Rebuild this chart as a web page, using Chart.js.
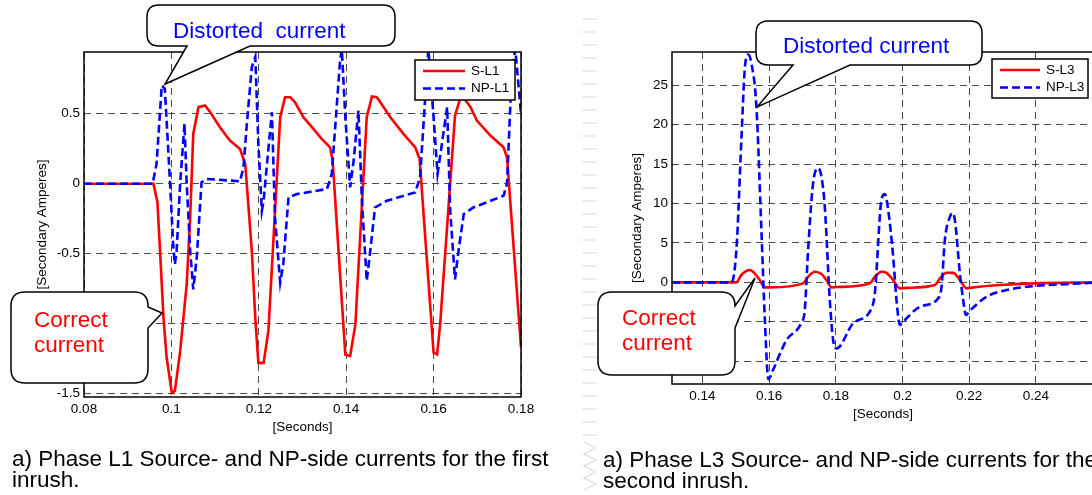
<!DOCTYPE html>
<html>
<head>
<meta charset="utf-8">
<script src="https://cdn.jsdelivr.net/npm/chart.js@4.4.0/dist/chart.umd.min.js"></script>
<style>
  html, body { margin: 0; padding: 0; background: #fff; }
  body { width: 1092px; height: 495px; overflow: hidden; position: relative; }
  canvas { position: absolute; top: 0; }
  #chart-l1 { left: 0; }
  #chart-l3 { left: 595px; }
  #notes { position: absolute; left: 0; top: 0; pointer-events: none; }
  #notes text { font-family: "Liberation Sans", Arial, sans-serif; font-size: 22.5px; white-space: pre; }
  .fold { position: absolute; left: 582px; top: 18px; width: 15px; height: 420px;
          background: repeating-linear-gradient(to bottom, #ececec 0 2px, transparent 2px 13px); }
</style>
</head>
<body>
<div class="fold"></div>
<canvas id="chart-l1" width="545" height="440"></canvas>
<canvas id="chart-l3" width="523" height="427"></canvas>

<svg id="notes" width="1092" height="495">
  <!-- left: distorted -->
  <path d="M159 5 H383 Q395 5 395 17 V34 Q395 46 383 46 H250 L165 84 L187 46 H159 Q147 46 147 34 V17 Q147 5 159 5 Z"
        fill="#fff" stroke="#000" stroke-width="1.5"/>
  <text x="173" y="37.5" fill="#0000ff">Distorted  current</text>
  <!-- left: correct -->
  <path d="M25 292 H134 Q148 292 148 306 V307 L162 313 L148 328 V369 Q148 383 134 383 H25 Q11 383 11 369 V306 Q11 292 25 292 Z"
        fill="#fff" stroke="#000" stroke-width="1.5"/>
  <text x="34" y="327" fill="#ff0000">Correct</text>
  <text x="34" y="351.5" fill="#ff0000">current</text>
  <!-- right: distorted -->
  <path d="M768 21 H970 Q982 21 982 33 V53 Q982 65 970 65 H850 L757 107 L793 65 H768 Q756 65 756 53 V33 Q756 21 768 21 Z"
        fill="#fff" stroke="#000" stroke-width="1.5"/>
  <text x="783" y="53" fill="#0000ff">Distorted current</text>
  <!-- right: correct -->
  <path d="M612 292 H721 Q735 292 735 306 L755 278 L735 328 V361 Q735 375 721 375 H612 Q598 375 598 361 V306 Q598 292 612 292 Z"
        fill="#fff" stroke="#000" stroke-width="1.5"/>
  <text x="622" y="325" fill="#ff0000">Correct</text>
  <text x="622" y="350" fill="#ff0000">current</text>

  <polyline points="584,442 596,448 584,454 596,460 584,466 596,472 584,478 596,484 584,490" fill="none" stroke="#e2e2e2" stroke-width="1.5"/>

  <text x="12" y="466" fill="#000">a) Phase L1 Source- and NP-side currents for the first</text>
  <text x="12" y="487.3" fill="#000">inrush.</text>
  <text x="603" y="466.7" fill="#000">a) Phase L3 Source- and NP-side currents for the</text>
  <text x="603" y="488" fill="#000">second inrush.</text>
</svg>

<script>
// ---- L1, first inrush ----
const l1XTicks = [0.08, 0.1, 0.12, 0.14, 0.16, 0.18];
const l1YTicks = [-1.5, -1, -0.5, 0, 0.5];

const sL1Time = [0.080, 0.0959, 0.0968, 0.0974, 0.0982, 0.0989, 0.1001, 0.1008, 0.1020, 0.1035, 0.1043, 0.1050,
  0.1062, 0.1077, 0.1089, 0.1111, 0.1134, 0.1157, 0.1169, 0.1184, 0.1192, 0.1199, 0.1211, 0.1222, 0.1249,
  0.1260, 0.1272, 0.1283, 0.1302, 0.1325, 0.1344, 0.1363, 0.1369, 0.1398, 0.1409, 0.1421, 0.1447, 0.1459,
  0.1470, 0.1478, 0.1501, 0.1531, 0.1558, 0.1568, 0.1600, 0.1608, 0.1615, 0.1649, 0.1661, 0.1672, 0.1684,
  0.1699, 0.1730, 0.1760, 0.1768, 0.1800];
const sL1Amps = [0, 0, -0.13, -0.48, -0.96, -1.24, -1.495, -1.48, -1.20, -0.72, -0.24, 0.356,
  0.547, 0.559, 0.511, 0.403, 0.308, 0.248, 0.141, -0.48, -0.96, -1.28, -1.28, -1.05, 0.475,
  0.618, 0.618, 0.582, 0.475, 0.392, 0.32, 0.26, 0.165, -1.22, -1.232, -1.005, 0.475, 0.623,
  0.618, 0.582, 0.475, 0.356, 0.26, 0.177, -1.208, -1.22, -1.005, 0.487, 0.61, 0.60, 0.55,
  0.451, 0.344, 0.26, 0.188, -1.17];

const npL1Time = [0.080, 0.0957, 0.0966, 0.0978, 0.0985, 0.0997, 0.1004, 0.1008, 0.1012, 0.1020, 0.1030, 0.1035,
  0.1043, 0.1050, 0.1058, 0.1069, 0.1081, 0.1157, 0.1165, 0.1172, 0.1184, 0.1192, 0.1199, 0.1207, 0.1211,
  0.1218, 0.1230, 0.1237, 0.1249, 0.1256, 0.1268, 0.1287, 0.1356, 0.1367, 0.1386, 0.1390, 0.1398, 0.1409,
  0.1417, 0.1428, 0.1436, 0.1447, 0.1455, 0.1466, 0.1493, 0.1558, 0.1569, 0.1588, 0.1600, 0.1609, 0.1619,
  0.1631, 0.1638, 0.1649, 0.1657, 0.1669, 0.1691, 0.1760, 0.1768, 0.1779, 0.1787, 0.1800];
const npL1Amps = [0, 0, 0.141, 0.702, 0.678, 0, -0.43, -0.575, -0.48, 0, 0.428, 0,
  -0.48, -0.755, -0.528, 0.01, 0.034, 0.017, 0.117, 0.403, 0.833, 0.905, 0.284, -0.193, -0.122,
  0.117, 0.511, -0.241, -0.707, -0.575, -0.098, -0.074, -0.038, 0.07, 0.88, 0.96, 0.475, -0.026,
  0.165, 0.523, -0.122, -0.695, -0.48, -0.17, -0.122, -0.062, 0.045, 0.96, 0.475, 0.07, 0.284,
  0.547, -0.193, -0.683, -0.48, -0.217, -0.17, -0.086, 0, 0.81, 0.96, 0.5];

// ---- L3, second inrush ----
const l3XTicks = [0.14, 0.16, 0.18, 0.2, 0.22, 0.24];
const l3YTicks = [-10, -5, 0, 5, 10, 15, 20, 25];

const sL3Time = [0.1309, 0.1502, 0.1517, 0.1542, 0.1557, 0.1572, 0.1587, 0.1602, 0.1702, 0.1717, 0.1737, 0.1757,
  0.1772, 0.1787, 0.1802, 0.1902, 0.1917, 0.1937, 0.1952, 0.1972, 0.1992, 0.2012, 0.2097, 0.2112, 0.2132,
  0.2152, 0.2172, 0.2192, 0.2212, 0.2292, 0.2392, 0.2574];
const sL3Amps = [0, 0, 0.93, 1.56, 1.14, 0.29, -0.64, -0.64, -0.13, 0.71, 1.35, 1.05,
  0.29, -0.64, -0.6, -0.13, 0.71, 1.35, 1.2, 0.29, -0.76, -0.7, -0.34, 0.5, 1.22,
  1.2, 0.29, -0.76, -0.64, -0.34, -0.13, 0];

const npL3Time = [0.1309, 0.1487, 0.1502, 0.1517, 0.1527, 0.1537, 0.1547, 0.1562, 0.1577, 0.1587, 0.1598, 0.1612,
  0.1652, 0.1697, 0.1707, 0.1717, 0.1732, 0.1747, 0.1757, 0.1767, 0.1782, 0.1792, 0.1802, 0.1852, 0.1907,
  0.1917, 0.1937, 0.1947, 0.1957, 0.1972, 0.1982, 0.1992, 0.2002, 0.2052, 0.2107, 0.2117, 0.2127, 0.2142,
  0.2150, 0.2157, 0.2172, 0.2182, 0.2190, 0.2202, 0.2252, 0.2312, 0.2392, 0.2492, 0.2574];
const npL3Amps = [0, 0, 4.1, 18.1, 27, 28.9, 27.8, 22.3, 6.6, -4.37, -12.3, -11.1,
  -7.33, -5.1, -3.52, 4.1, 12.6, 14.5, 13.4, 9.6, -2.25, -7.33, -8.4, -5.2, -3.3,
  -1.4, 10.5, 11.2, 9.2, 3.25, -2.25, -5.4, -5.0, -3.1, -2.03, -0.56, 5.4, 8.3,
  8.8, 7.9, 1.14, -2.25, -4.15, -3.6, -1.83, -0.98, -0.47, -0.22, -0.05];

const fontFamily = '"Liberation Sans", Arial, sans-serif';
const axisFont = { family: fontFamily, size: 13.5 };
const gridColor = "rgba(30, 30, 30, 0.8)";

// black box round the plot area, like a matlab axes
const axesBox = {
  id: "axesBox",
  afterDatasetsDraw(chart) {
    const { ctx, chartArea: a } = chart;
    ctx.save();
    ctx.strokeStyle = "#000";
    ctx.lineWidth = 1.5;
    ctx.strokeRect(a.left, a.top, a.right - a.left, a.bottom - a.top);
    ctx.restore();
  },
};

// legend drawn inside the plot
const insideLegend = {
  id: "insideLegend",
  afterDraw(chart, args, opts) {
    const { ctx } = chart;
    const { x, y, width, height, sample } = opts;
    ctx.save();
    ctx.fillStyle = "#fff";
    ctx.fillRect(x, y, width, height);
    ctx.strokeStyle = "#000";
    ctx.lineWidth = 1.5;
    ctx.strokeRect(x, y, width, height);
    ctx.font = `13.5px ${fontFamily}`;
    ctx.textBaseline = "middle";
    chart.data.datasets.forEach((ds, i) => {
      const rowY = y + 11 + i * 17.5;
      ctx.strokeStyle = ds.borderColor;
      ctx.lineWidth = ds.borderWidth;
      ctx.setLineDash(ds.borderDash || []);
      ctx.beginPath();
      ctx.moveTo(x + 8, rowY);
      ctx.lineTo(x + sample, rowY);
      ctx.stroke();
      ctx.setLineDash([]);
      ctx.fillStyle = "#000";
      ctx.fillText(ds.label, x + sample + 6, rowY);
    });
    ctx.restore();
  },
};

function toPoints(times, amps) {
  return times.map((t, i) => ({ x: t, y: amps[i] }));
}

function buildChart(id, cfg) {
  return new Chart(document.getElementById(id), {
    type: "line",
    data: {
      datasets: [
        {
          label: cfg.labels[0],
          data: toPoints(cfg.sTime, cfg.sAmps),
          borderColor: "#ff0000",
          borderWidth: 2.6,
          pointRadius: 0,
          cubicInterpolationMode: cfg.smooth ? "monotone" : "default",
          order: 1,
        },
        {
          label: cfg.labels[1],
          data: toPoints(cfg.npTime, cfg.npAmps),
          borderColor: "#0000ff",
          borderWidth: 2.6,
          borderDash: [8, 4],
          pointRadius: 0,
          cubicInterpolationMode: cfg.smooth ? "monotone" : "default",
          order: 0,
        },
      ],
    },
    options: {
      responsive: false,
      animation: false,
      layout: { padding: { left: 0, top: 52, right: 24, bottom: 0 } },
      plugins: {
        legend: { display: false },
        tooltip: { enabled: false },
        insideLegend: cfg.legend,
      },
      scales: {
        x: {
          type: "linear",
          min: cfg.xMin,
          max: cfg.xMax,
          afterBuildTicks: (scale) => {
            scale.ticks = cfg.xTicks.map((value) => ({ value }));
          },
          afterFit: (scale) => {
            scale.height = 43;
          },
          grid: { color: gridColor, lineWidth: 1, drawTicks: false },
          border: { display: false, dash: [7, 5] },
          ticks: { color: "#000", font: axisFont, padding: 4, autoSkip: false, maxRotation: 0, callback: (v) => String(v) },
          title: { display: true, text: "[Seconds]", color: "#000", font: axisFont, padding: { top: 0, bottom: 5 } },
        },
        y: {
          type: "linear",
          min: cfg.yMin,
          max: cfg.yMax,
          afterBuildTicks: (scale) => {
            scale.ticks = cfg.yTicks.map((value) => ({ value }));
          },
          afterFit: (scale) => {
            scale.width = cfg.yWidth;
          },
          grid: { color: gridColor, lineWidth: 1, drawTicks: false },
          border: { display: false, dash: [7, 5] },
          ticks: { color: "#000", font: axisFont, padding: 4, autoSkip: false, callback: (v) => String(v) },
          title: { display: true, text: "[Secondary Amperes]", color: "#000", font: axisFont, padding: { top: 34, bottom: 0 } },
        },
      },
    },
    plugins: [axesBox, insideLegend],
  });
}

buildChart("chart-l1", {
  labels: ["S-L1", "NP-L1"],
  sTime: sL1Time, sAmps: sL1Amps,
  npTime: npL1Time, npAmps: npL1Amps,
  xMin: 0.08, xMax: 0.18, xTicks: l1XTicks,
  yMin: -1.524, yMax: 0.941, yTicks: l1YTicks,
  yWidth: 84,
  smooth: false,
  legend: { x: 415, y: 60, width: 100, height: 40, sample: 50 },
});

buildChart("chart-l3", {
  labels: ["S-L3", "NP-L3"],
  sTime: sL3Time, sAmps: sL3Amps,
  npTime: npL3Time, npAmps: npL3Amps,
  xMin: 0.1309, xMax: 0.2574, xTicks: l3XTicks,
  yMin: -12.9, yMax: 29.23, yTicks: l3YTicks,
  yWidth: 77,
  smooth: true,
  legend: { x: 397, y: 59, width: 96, height: 39, sample: 48 },
});
</script>
</body>
</html>
